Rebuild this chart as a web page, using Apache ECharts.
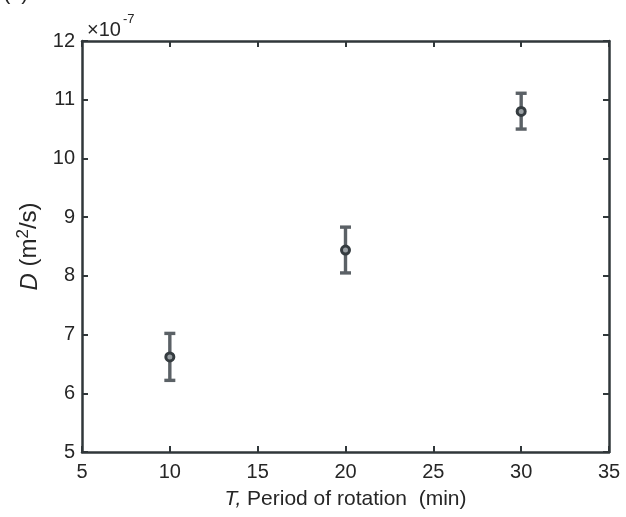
<!DOCTYPE html>
<html>
<head>
<meta charset="utf-8">
<script src="https://cdn.jsdelivr.net/npm/echarts@6/dist/echarts.min.js"></script>
<style>html,body{margin:0;padding:0;background:#fff}#c{width:626px;height:517px}</style>
</head>
<body>
<div id="c"></div>
<script>
// Data (D in units of 1e-7 m^2/s)
const periods = [10, 20, 30];
const dMean = [6.62, 8.44, 10.80];
const dLow = [6.22, 8.05, 10.50];
const dHigh = [7.02, 8.83, 11.11];
const xTicks = [5, 10, 15, 20, 25, 30, 35];
const yTicks = [5, 6, 7, 8, 9, 10, 11, 12];

const FONT = '"Liberation Sans", Arial, Helvetica, sans-serif';
const AXIS = '#30373a';
const TXT = '#262626';
const BAR = '#5b6166';

const data = periods.map((p, i) => [p, dMean[i], dLow[i], dHigh[i]]);

const chart = echarts.init(document.getElementById('c'), null, {renderer: 'canvas'});
const axisCommon = {
  axisLine: {show: true, onZero: false, lineStyle: {color: AXIS, width: 2.5}},
  axisTick: {show: true, inside: true, length: 6, lineStyle: {color: AXIS, width: 2}},
  splitLine: {show: false}
};
chart.setOption({
  animation: false,
  backgroundColor: '#fff',
  grid: {left: 82, right: 17, top: 41, bottom: 65, containLabel: false},
  xAxis: [
    Object.assign({
      type: 'value', min: xTicks[0], max: xTicks[xTicks.length - 1], interval: 5,
      position: 'bottom',
      axisLabel: {color: TXT, fontFamily: FONT, fontSize: 20, margin: 10},
      name: '{i|T,} Period of rotation  (min)',
      nameLocation: 'middle', nameGap: 37,
      nameTextStyle: {color: TXT, fontFamily: FONT, fontSize: 21,
        rich: {i: {fontStyle: 'italic', fontFamily: FONT, fontSize: 21, color: TXT}}}
    }, axisCommon),
    Object.assign({
      type: 'value', min: xTicks[0], max: xTicks[xTicks.length - 1], interval: 5,
      position: 'top', axisLabel: {show: false}
    }, axisCommon)
  ],
  yAxis: [
    Object.assign({
      type: 'value', min: yTicks[0], max: yTicks[yTicks.length - 1], interval: 1,
      position: 'left',
      axisLabel: {color: TXT, fontFamily: FONT, fontSize: 20, margin: 7},
      name: '{i|D} {n|(m}{s|2}{n|/s)}',
      nameLocation: 'middle', nameGap: 38, nameRotate: 90,
      nameTextStyle: {color: TXT, fontFamily: FONT, fontSize: 24,
        rich: {
          i: {fontStyle: 'italic', fontFamily: FONT, fontSize: 24, color: TXT, verticalAlign: 'bottom'},
          n: {fontFamily: FONT, fontSize: 24, color: TXT, verticalAlign: 'bottom'},
          s: {fontFamily: FONT, fontSize: 17, color: TXT, verticalAlign: 'bottom', padding: [0, 0, 10, 0]}
        }}
    }, axisCommon),
    Object.assign({
      type: 'value', min: yTicks[0], max: yTicks[yTicks.length - 1], interval: 1,
      position: 'right', axisLabel: {show: false}
    }, axisCommon)
  ],
  graphic: [
    {type: 'text', left: 87, top: 20, style: {text: '×10', font: '20px ' + FONT, fill: TXT}},
    {type: 'text', left: 123, top: 13, style: {text: '-7', font: '13px ' + FONT, fill: TXT}},
    {type: 'text', left: 3, top: -18, style: {text: '(c)', font: '22px ' + FONT, fill: TXT}}
  ],
  series: [{
    type: 'custom',
    xAxisIndex: 0, yAxisIndex: 0,
    data: data,
    renderItem: function (params, api) {
      const x = api.value(0);
      const c = api.coord([x, api.value(1)]);
      const lo = api.coord([x, api.value(2)]);
      const hi = api.coord([x, api.value(3)]);
      const hw = 5.5;
      const ls = {stroke: BAR, lineWidth: 3.4};
      return {
        type: 'group',
        children: [
          {type: 'line', shape: {x1: c[0], y1: lo[1], x2: c[0], y2: hi[1]}, style: ls},
          {type: 'line', shape: {x1: c[0] - hw, y1: lo[1], x2: c[0] + hw, y2: lo[1]}, style: ls},
          {type: 'line', shape: {x1: c[0] - hw, y1: hi[1], x2: c[0] + hw, y2: hi[1]}, style: ls},
          {type: 'circle', shape: {cx: c[0], cy: c[1], r: 4}, style: {fill: '#9aa0a4', stroke: '#353c40', lineWidth: 3}}
        ]
      };
    }
  }]
});
</script>
</body>
</html>
